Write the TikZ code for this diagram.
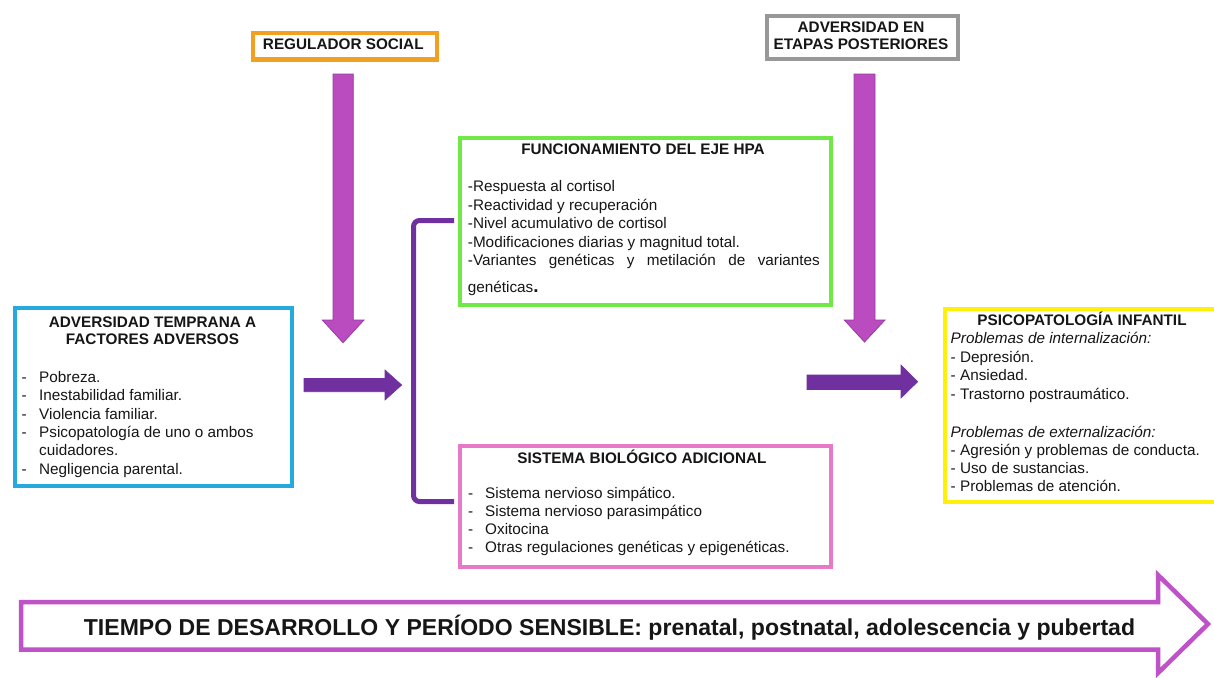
\documentclass[tikz,border=0pt]{standalone}
\usepackage{fontspec}
\setmainfont{Liberation Sans}
\usetikzlibrary{calc}
\definecolor{ink}{RGB}{22,22,22}
\definecolor{corange}{RGB}{243,160,32}
\definecolor{cgrey}{RGB}{152,152,152}
\definecolor{cblue}{RGB}{38,170,222}
\definecolor{cgreen}{RGB}{112,232,72}
\definecolor{cpink}{RGB}{230,122,200}
\definecolor{cyellow}{RGB}{255,240,10}
\definecolor{cmag}{RGB}{186,76,192}
\definecolor{cmagd}{RGB}{150,60,160}
\definecolor{cdark}{RGB}{112,48,160}
\definecolor{cbig}{RGB}{190,82,198}
\newcommand\mysz{\fontsize{15.3}{18.4}\selectfont}
\begin{document}
\begin{tikzpicture}[x=1pt,y=-1pt,
  box/.style={draw, line width=4pt, inner sep=0pt, anchor=north west},
  txt/.style={inner sep=0pt, font=\mysz, text=ink, anchor=base west},
  ttl/.style={inner sep=0pt, font=\mysz\bfseries, text=ink, anchor=base},
  itx/.style={txt, font=\mysz\itshape},
  blockd/.style={fill=cmag, draw=cmagd, line width=0.8pt, line join=miter},
  blockr/.style={fill=cdark, draw=cdark, line width=0.6pt, line join=miter}]
\useasboundingbox (0,0) rectangle (1214,677);
\fill[white] (0,0) rectangle (1214,677);

% ---------- top boxes
\node[box, draw=corange, minimum width=184pt, minimum height=26.5pt] (reg) at (251,31) {};
\node[ttl] (regT) at (343.3,50) {REGULADOR SOCIAL};

\node[box, draw=cgrey, minimum width=191pt, minimum height=43pt] (post) at (765,14) {};
\node[ttl] (postT1) at (861,32.3) {ADVERSIDAD EN};
\node[ttl] (postT2) at (861,49.8) {ETAPAS POSTERIORES};

% ---------- left box
\node[box, draw=cblue, minimum width=277pt, minimum height=178pt] (adv) at (13,306) {};
\node[ttl] (advT1) at (152.5,327) {ADVERSIDAD TEMPRANA A};
\node[ttl] (advT2) at (152.5,344.5) {FACTORES ADVERSOS};
\node[txt] (adv1) at (21.5,382.5) {\makebox[17.5pt][l]{-}Pobreza.};
\node[txt] (adv2) at (21.5,400.8) {\makebox[17.5pt][l]{-}Inestabilidad familiar.};
\node[txt] (adv3) at (21.5,419.1) {\makebox[17.5pt][l]{-}Violencia familiar.};
\node[txt] (adv4) at (21.5,437.4) {\makebox[17.5pt][l]{-}Psicopatología de uno o ambos};
\node[txt] (adv4b) at (39,455.7) {cuidadores.};
\node[txt] (adv5) at (21.5,474) {\makebox[17.5pt][l]{-}Negligencia parental.};

% ---------- green box
\node[box, draw=cgreen, minimum width=371pt, minimum height=167.5pt] (hpa) at (458,135.5) {};
\node[ttl] (hpaT) at (643,154.3) {FUNCIONAMIENTO DEL EJE HPA};
\node[txt] (hpa1) at (467.7,191.7) {-Respuesta al cortisol};
\node[txt] (hpa2) at (467.7,210.2) {-Reactividad y recuperación};
\node[txt] (hpa3) at (467.7,228.7) {-Nivel acumulativo de cortisol};
\node[txt] (hpa4) at (467.7,247.2) {-Modificaciones diarias y magnitud total.};
\node[txt] (hpa5) at (467.7,265.7) {\makebox[352pt][s]{-Variantes genéticas y metilación de variantes}};
\node[txt] (hpa6) at (467.7,292) {genéticas{\fontsize{19}{19}\selectfont\bfseries .}};

% ---------- pink box
\node[box, draw=cpink, minimum width=370.5pt, minimum height=121.5pt] (bio) at (458,443.5) {};
\node[ttl] (bioT) at (642,463.3) {SISTEMA BIOLÓGICO ADICIONAL};
\node[txt] (bio1) at (468,498.3) {\makebox[17pt][l]{-}Sistema nervioso simpático.};
\node[txt] (bio2) at (468,516.3) {\makebox[17pt][l]{-}Sistema nervioso parasimpático};
\node[txt] (bio3) at (468,534.3) {\makebox[17pt][l]{-}Oxitocina};
\node[txt] (bio4) at (468,552.3) {\makebox[17pt][l]{-}Otras regulaciones genéticas y epigenéticas.};

% ---------- yellow box
\node[box, draw=cyellow, minimum width=280pt, minimum height=193pt] (psi) at (943,307) {};
\node[ttl] (psiT) at (1082,325.5) {PSICOPATOLOGÍA INFANTIL};
\node[itx] (psi1) at (950.5,343.5) {Problemas de internalización:};
\node[txt] (psi2) at (950.5,362) {- Depresión.};
\node[txt] (psi3) at (950.5,380.5) {- Ansiedad.};
\node[txt] (psi4) at (950.5,399) {- Trastorno postraumático.};
\node[itx] (psi5) at (950.5,437.5) {Problemas de externalización:};
\node[txt] (psi6) at (950.5,455.5) {- Agresión y problemas de conducta.};
\node[txt] (psi7) at (950.5,473.5) {- Uso de sustancias.};
\node[txt] (psi8) at (950.5,491.5) {- Problemas de atención.};

% ---------- vertical block arrows
\draw[blockd] (333,74) -- (353.3,74) -- (353.3,320) -- (364,320) -- (343,342.7)
  -- (322.3,320) -- (333,320) -- cycle;
\draw[blockd] (854,74) -- (875,74) -- (875,320) -- (885,320) -- (864.5,342)
  -- (844.3,320) -- (854,320) -- cycle;

% ---------- horizontal dark arrows
\draw[blockr] (304,378.5) -- (385,378.5) -- (385,370) -- (401.7,385) -- (385,400)
  -- (385,391.7) -- (304,391.7) -- cycle;
\draw[blockr] (807,375) -- (901,375) -- (901,365) -- (917.7,381.7) -- (901,398)
  -- (901,389.5) -- (807,389.5) -- cycle;

% ---------- bracket
\coordinate (bTop) at ($(hpa.north west)+(-4,85)$);
\coordinate (bBot) at ($(bio.north west)+(-4,58)$);
\draw[cdark, line width=5pt, rounded corners=6pt] (bTop) -- (413.5,220.5) -- (413.5,501.5) -- (bBot);

% ---------- big time arrow
\draw[cbig, line width=4.5pt, line join=miter, miter limit=10] (21,602) -- (1158,602) -- (1158,575)
  -- (1208,624) -- (1158,673) -- (1158,649.5) -- (21,649.5) -- cycle;
\node[inner sep=0pt, anchor=base, text=ink] (time) at (609.5,635.5)
  {\resizebox{1051pt}{!}{\bfseries TIEMPO DE DESARROLLO Y PERÍODO SENSIBLE: prenatal, postnatal, adolescencia y pubertad}};
\end{tikzpicture}
\end{document}
